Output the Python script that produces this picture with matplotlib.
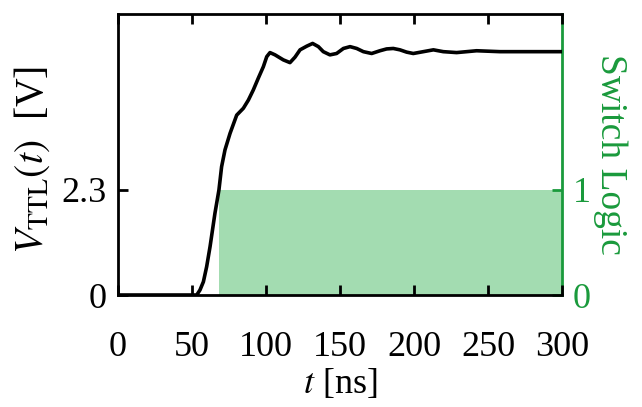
import numpy as np
import matplotlib
matplotlib.use("Agg")
import matplotlib.pyplot as plt

plt.rcParams['font.family'] = ['Liberation Serif', 'DejaVu Serif']
plt.rcParams['mathtext.fontset'] = 'stix'
plt.rcParams['font.size'] = 26

# Measured TTL output voltage (ns, V)
t_ns = [0, 20, 40, 50, 53.2, 55.4, 57.7, 59.9, 62.2, 65.5, 68.2, 70.0, 72.3, 75.7,
        80.2, 84.7, 88.1, 91.4, 94.8, 98.2, 100.5, 102.7, 106.1, 111.7, 116.2,
        119.6, 123.0, 127.5, 131.5, 135.4, 138.7, 143.2, 147.7, 152.3, 156.8,
        161.3, 165.8, 171.4, 177.0, 181.5, 186.0, 190.5, 195.0, 199.5, 206.3,
        213.1, 219.8, 228.8, 235.6, 242.3, 258.1, 280.6, 300]
v_ttl = [0, 0, 0, 0, 0.0, 0.11, 0.29, 0.62, 1.06, 1.79, 2.30, 2.81, 3.18, 3.54,
         3.94, 4.09, 4.27, 4.49, 4.75, 5.00, 5.22, 5.31, 5.26, 5.15, 5.09,
         5.21, 5.37, 5.45, 5.51, 5.44, 5.33, 5.26, 5.29, 5.40, 5.44,
         5.40, 5.33, 5.29, 5.35, 5.39, 5.40, 5.37, 5.32, 5.29, 5.33,
         5.37, 5.33, 5.31, 5.33, 5.35, 5.33, 5.33, 5.33]

# Switch logic state (ns, level)
t_switch = [68.2, 300]
switch_level = [1, 1]

green = '#1a9a3c'
fill_green = '#a3dcb1'

fig = plt.figure(figsize=(6.42, 4.07), dpi=100)
ax = fig.add_axes([118/642, 1 - 295/407, 444/642, 281/407])
ax2 = ax.twinx()

ax2.fill_between(t_switch, 0, switch_level, color=fill_green, linewidth=0, zorder=1)
ax.plot(t_ns, v_ttl, color='black', lw=2.6, solid_joinstyle='round',
        solid_capstyle='round', zorder=3)

ax.set_zorder(ax2.get_zorder() + 1)
ax.patch.set_visible(False)

ax.set_xlim(0, 300)
ax.set_ylim(0, 6.155)
ax2.set_ylim(0, 6.155 / 2.3)

ax.set_xticks([0, 50, 100, 150, 200, 250, 300])
ax.set_yticks([0, 2.3])
ax.set_yticklabels(['0', '2.3'])
ax2.set_yticks([0, 1])

ax.tick_params(axis='both', direction='in', length=7, width=2, pad=8, top=True)
ax.tick_params(axis='x', pad=26)
ax2.tick_params(axis='y', direction='in', length=7, width=2, colors=green, pad=8)

for s in ax.spines.values():
    s.set_linewidth(2)
for s in ['top', 'bottom', 'left']:
    ax2.spines[s].set_visible(False)
ax.spines['right'].set_visible(False)
ax2.spines['right'].set_color(green)
ax2.spines['right'].set_linewidth(2)

ax.set_xlabel(r'$t$ [ns]', labelpad=2)
fig.text(32/642, 1 - 160/407, r'$V_{\rm TTL}(t)$  [V]', fontsize=28.5,
         rotation=90, ha='center', va='center')
ax2.set_ylabel('Switch Logic', color=green, rotation=270, fontsize=27, labelpad=26)

fig.savefig('out.png', dpi=100)
